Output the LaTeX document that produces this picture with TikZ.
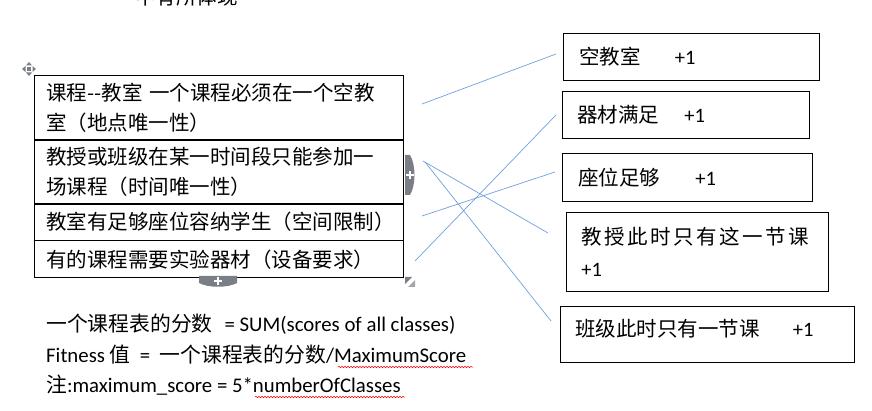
\documentclass[tikz,border=0pt]{standalone}
\usepackage{fontspec}
\setmainfont{Carlito}
\newfontfamily\cjk{Noto Sans CJK SC}
\usetikzlibrary{positioning,decorations.pathmorphing}
\definecolor{linkblue}{RGB}{111,160,220}
\definecolor{handlegray}{RGB}{122,127,133}

\tikzset{
  rowbox/.style={draw, line width=0.8pt, anchor=north west, inner xsep=12pt, inner ysep=0pt,
    text width=345pt, align=left, font=\cjk\fontsize{20.5}{30}\selectfont},
  scorebox/.style={draw, line width=0.8pt, anchor=north west, inner ysep=0pt, align=left,
    font=\fontsize{20.5}{32}\selectfont},
  note/.style={anchor=west, inner sep=0pt, font=\fontsize{20.8}{24}\selectfont},
  link/.style={draw=linkblue, line width=0.7pt},
  squiggle/.style={draw=red, line width=0.5pt, decorate,
    decoration={snake, amplitude=0.8pt, segment length=3pt}}
}

\begin{document}
\begin{tikzpicture}[x=1pt,y=-1pt]
    \useasboundingbox (0,0) rectangle (872,411);
    % cut-off line at the top
    \node[anchor=base west, inner sep=0pt, font=\cjk\fontsize{20.5}{24}\selectfont] (toptext) at (135,5) {中有所体现};

    % the four constraints
    \node[rowbox, minimum height=64pt] (r1) at (34,75) {课程{-}{-}教室 一个课程必须在一个空教\\室（地点唯一性）};
    \node[rowbox, minimum height=63pt] (r2) at (r1.south west) {教授或班级在某一时间段只能参加一\\场课程（时间唯一性）};
    \node[rowbox, minimum height=36pt] (r3) at (r2.south west) {教室有足够座位容纳学生（空间限制）};
    \node[rowbox, minimum height=37pt] (r4) at (r3.south west) {有的课程需要实验器材（设备要求）};

    % table handles
    \fill[handlegray] (29,62) -- (32,65.5) -- (26,65.5) -- cycle;
    \fill[handlegray] (29,76) -- (32,72.5) -- (26,72.5) -- cycle;
    \fill[handlegray] (22,69) -- (25.5,66) -- (25.5,72) -- cycle;
    \fill[handlegray] (36,69) -- (32.5,66) -- (32.5,72) -- cycle;
    \fill[handlegray] (27,67) rectangle (31,71);
    \fill[handlegray] (405,155) -- (410,155) .. controls (416,165) and (416,185) .. (410,195) -- (405,195) -- cycle;
    \draw[white, line width=1.6pt] (406,175) -- (413.5,175) (409.75,171.25) -- (409.75,178.75);
    \fill[handlegray] (199,276) -- (237,276) -- (237,283) .. controls (228,288) and (208,288) .. (199,283) -- cycle;
    \draw[white, line width=1.6pt] (214,281) -- (222,281) (218,277) -- (218,285);
    \fill[handlegray] (405,277) -- (412,277) -- (405,284) -- cycle;
    \fill[handlegray!70] (415,280) -- (415,287) -- (408,287) -- cycle;

    % scores
    \node[scorebox, minimum height=47pt, inner xsep=16pt, text width=224pt] (b1) at (563,33) {{\cjk 空教室}\hspace{34pt}+1};
    \node[scorebox, minimum height=47pt, inner xsep=15pt, text width=217pt] (b2) at (562,91) {{\cjk 器材满足}\hspace{25pt}+1};
    \node[scorebox, minimum height=48pt, inner xsep=16pt, text width=218pt] (b3) at (562,153) {{\cjk 座位足够}\hspace{35pt}+1};
    \node[scorebox, minimum height=79pt, inner xsep=15pt, text width=232pt] (b4) at (566,212) {{\cjk\addfontfeatures{LetterSpace=12}教授此时只有这一节课}\\+1};
    \node[scorebox, minimum height=56pt, inner xsep=15pt, text width=264pt, text depth=14pt] (b5) at (560,306) {{\cjk 班级此时只有一节课}\hspace{33pt}+1};

    % links
    \coordinate (s1) at (422,104); \coordinate (e1) at (556,54);
    \coordinate (s2) at (415,261); \coordinate (e2) at (556,115);
    \coordinate (s3) at (422,216); \coordinate (e3) at (555,172);
    \coordinate (s4) at (423,161); \coordinate (e4) at (548,233);
    \coordinate (s5) at (425,162); \coordinate (e5) at (551,321);
    \draw[link] (s1) -- (e1);
    \draw[link] (s2) -- (e2);
    \draw[link] (s3) -- (e3);
    \draw[link] (s4) -- (e4);
    \draw[link] (s5) -- (e5);

    % fitness
    \node[note] (t1) at (46,324) {{\cjk 一个课程表的分数}\hspace{12pt}= SUM(scores of all classes)};
    \node[note] (t2) at (46,355) {Fitness {\cjk 值}\ \ =\ \ {\cjk 一个课程表的分数}/MaximumScore};
    \node[note] (t3) at (46,385) {{\cjk 注}:maximum\_score = 5*numberOfClasses};
    \draw[squiggle] (338,367) -- (473,367);
    \draw[squiggle] (255,397) -- (405,397);
\end{tikzpicture}
\end{document}
